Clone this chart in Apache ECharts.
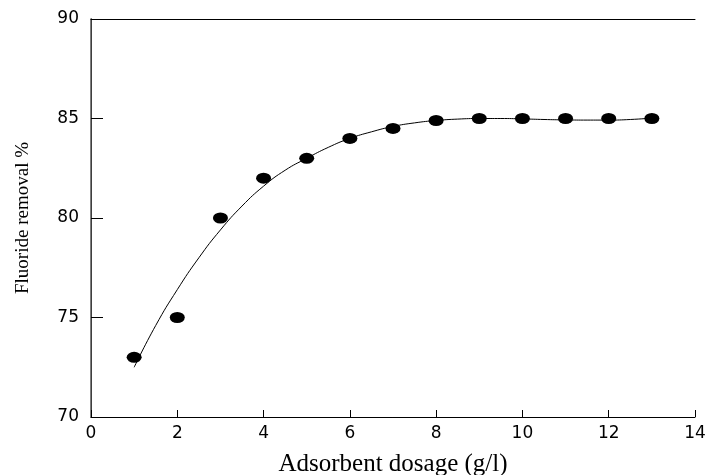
<!DOCTYPE html>
<html>
<head>
<meta charset="utf-8">
<script src="https://cdn.jsdelivr.net/npm/echarts@6/dist/echarts.min.js"></script>
<style>html,body{margin:0;padding:0;background:#fff}#c{width:709px;height:475px}</style>
</head>
<body>
<div id="c"></div>
<script>
// Measured points
var dosage = [1, 2, 3, 4, 5, 6, 7, 8, 9, 10, 11, 12, 13];
var removal = [73, 75, 80, 82, 83, 84, 84.5, 84.9, 85, 85, 85, 85, 85];
// Fitted curve
var fitX = [1, 1.5, 2, 2.5, 3, 3.5, 4, 4.5, 5, 5.5, 6, 6.5, 7, 7.5, 8, 8.5, 9, 9.5, 10, 10.5, 11, 11.5, 12, 12.5, 13];
var fitY = [72.5, 74.6, 76.4, 78.0, 79.4, 80.6, 81.6, 82.4, 83.0, 83.55, 84.0, 84.33, 84.6, 84.78, 84.9, 84.97, 85.0, 85.0, 84.98, 84.95, 84.93, 84.92, 84.92, 84.95, 85.02];
var xTicks = {min: 0, max: 14, interval: 2};
var yTicks = {min: 70, max: 90, interval: 5};

var pts = dosage.map(function (x, i) { return [x, removal[i]]; });
var fit = fitX.map(function (x, i) { return [x, fitY[i]]; });

var chart = echarts.init(document.getElementById('c'));
var tickFont = {color: '#000', fontFamily: 'DejaVu Sans', fontSize: 17};
chart.setOption({
  animation: false,
  backgroundColor: '#fff',
  grid: {left: 91, top: 19, right: 14, bottom: 58, containLabel: false, outerBoundsMode: 'none'},
  xAxis: [{
    type: 'value', min: xTicks.min, max: xTicks.max, interval: xTicks.interval,
    position: 'bottom',
    name: 'Adsorbent dosage (g/l)', nameLocation: 'middle', nameGap: 35,
    nameTextStyle: {color: '#000', fontFamily: 'Liberation Serif', fontSize: 25},
    axisLine: {show: true, lineStyle: {color: '#000', width: 1}},
    axisTick: {show: true, inside: true, length: 7, lineStyle: {color: '#000'}},
    axisLabel: Object.assign({margin: 8}, tickFont),
    splitLine: {show: false}
  }, {
    type: 'value', min: xTicks.min, max: xTicks.max, position: 'top',
    axisLine: {show: true, lineStyle: {color: '#000', width: 1}},
    axisTick: {show: false}, axisLabel: {show: false}, splitLine: {show: false}
  }],
  yAxis: [{
    type: 'value', min: yTicks.min, max: yTicks.max, interval: yTicks.interval,
    position: 'left',
    name: 'Fluoride removal %', nameLocation: 'middle', nameGap: 58,
    nameTextStyle: {color: '#000', fontFamily: 'Liberation Serif', fontSize: 19},
    axisLine: {show: true, lineStyle: {color: '#000', width: 1}},
    axisTick: {show: true, inside: true, length: 12, lineStyle: {color: '#000'}},
    axisLabel: Object.assign({margin: 12}, tickFont),
    splitLine: {show: false}
  }, {
    type: 'value', min: yTicks.min, max: yTicks.max, position: 'right',
    axisLine: {show: true, lineStyle: {color: '#555', width: 1.5}},
    axisTick: {show: false}, axisLabel: {show: false}, splitLine: {show: false}
  }],
  series: [{
    type: 'line', data: fit, smooth: true, showSymbol: false, silent: true,
    lineStyle: {color: '#000', width: 1}
  }, {
    type: 'scatter', data: pts, symbol: 'circle', symbolSize: [15, 11],
    itemStyle: {color: '#000', opacity: 1}
  }]
});
</script>
</body>
</html>
